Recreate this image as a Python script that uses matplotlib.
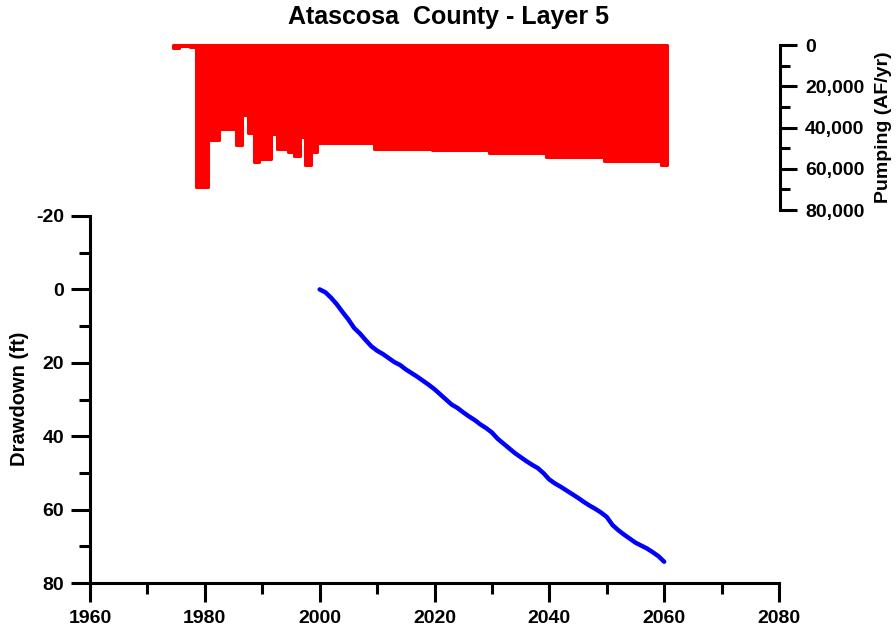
import matplotlib
matplotlib.use("Agg")
import matplotlib.pyplot as plt
from matplotlib.ticker import MultipleLocator, FuncFormatter

plt.rcParams['font.family'] = ['Liberation Sans', 'DejaVu Sans']
plt.rcParams['font.weight'] = 'bold'
plt.rcParams['axes.unicode_minus'] = False

# ---------------- data ----------------
title = "Atascosa  County - Layer 5"

pump_years = list(range(1975, 2061))
pump_values = [
    1300, 300, 300, 1000,                 # 1975-1978
    68800, 68800,                         # 1979-1980
    46200, 46200,                         # 1981-1982
    40500, 40500, 40500,                  # 1983-1985
    48600, 34100, 42600,                  # 1986-1988
    56700, 55100, 55100,                  # 1989-1991
    43300, 50200, 50200,                  # 1992-1994
    51800, 53900, 44400,                  # 1995-1997
    58300, 51800,                         # 1998-1999
    47500, 47500, 47500, 47500, 47500, 47500, 47500, 47500, 47500, 47500,  # 2000s
    50400, 50400, 50400, 50400, 50400, 50400, 50400, 50400, 50400, 50400,  # 2010s
    51000, 51000, 51000, 51000, 51000, 51000, 51000, 51000, 51000, 51000,  # 2020s
    52600, 52600, 52600, 52600, 52600, 52600, 52600, 52600, 52600, 52600,  # 2030s
    54200, 54200, 54200, 54200, 54200, 54200, 54200, 54200, 54200, 54200,  # 2040s
    56200, 56200, 56200, 56200, 56200, 56200, 56200, 56200, 56200, 56200,  # 2050s
    58300,                                # 2060
]

dd_years = list(range(2000, 2061))
dd_values = [
    0.0, 0.8, 2.3, 4.1, 6.2, 8.2, 10.5, 12.0, 13.8, 15.5,
    16.7, 17.6, 18.7, 19.8, 20.6, 21.8, 22.8, 23.8, 24.9, 26.0,
    27.2, 28.6, 30.0, 31.4, 32.3, 33.5, 34.6, 35.6, 36.8, 37.8,
    39.0, 40.7, 42.0, 43.3, 44.6, 45.7, 46.8, 47.8, 48.7, 50.1,
    51.8, 52.9, 53.8, 54.8, 55.8, 56.8, 57.9, 58.9, 59.8, 60.8,
    62.0, 64.2, 65.6, 66.8, 67.9, 69.0, 69.8, 70.6, 71.6, 72.7,
    74.2,
]

x_ticks = [1960, 1980, 2000, 2020, 2040, 2060, 2080]
dd_ticks = [-20, 0, 20, 40, 60, 80]
pump_ticks = [0, 20000, 40000, 60000, 80000]

# ---------------- figure ----------------
W, H = 896, 632
fig = plt.figure(figsize=(W / 100, H / 100), dpi=100)

LW = 2.2
TICK_FS = 14

# drawdown axes
ax = fig.add_axes([90 / W, 1 - 583 / H, (779 - 90) / W, (583 - 216) / H])
ax.set_xlim(1960, 2080)
ax.set_ylim(80, -20)
for s in ['top', 'right']:
    ax.spines[s].set_visible(False)
for s in ['left', 'bottom']:
    ax.spines[s].set_linewidth(LW)
    ax.spines[s].set_capstyle('projecting')
ax.set_xticks(x_ticks)
ax.set_yticks(dd_ticks)
ax.xaxis.set_minor_locator(MultipleLocator(10))
ax.yaxis.set_minor_locator(MultipleLocator(10))
ax.tick_params(which='major', length=13.5, width=LW, labelsize=TICK_FS, direction='out')
ax.tick_params(which='minor', length=8, width=LW, direction='out')
ax.tick_params(axis='x', which='major', pad=6)
ax.tick_params(axis='y', which='major', pad=5)
ax.plot(dd_years, dd_values, color='#0000ff', lw=3.2, solid_capstyle='round',
        solid_joinstyle='round')

# pumping axes (overlay)
ax2 = fig.add_axes([90 / W, 1 - 210 / H, (779 - 90) / W, (210 - 45) / H])
ax2.patch.set_visible(False)
ax2.set_xlim(1960, 2080)
ax2.set_ylim(80000, 0)
for s in ['top', 'left', 'bottom']:
    ax2.spines[s].set_visible(False)
ax2.spines['right'].set_linewidth(LW)
ax2.spines['right'].set_position(('data', 2080.2))
ax2.spines['right'].set_capstyle('projecting')
ax2.set_xticks([])
ax2.yaxis.tick_right()
ax2.set_yticks(pump_ticks)
ax2.yaxis.set_minor_locator(MultipleLocator(10000))
ax2.yaxis.set_major_formatter(FuncFormatter(lambda v, p: f"{int(v):,}"))
ax2.tick_params(axis='y', which='major', length=12, width=LW, labelsize=TICK_FS, pad=6,
                direction='out', right=True, left=False)
ax2.tick_params(axis='y', which='minor', length=7, width=LW, direction='out',
                right=True, left=False)
ax2.bar(pump_years, pump_values, width=1.0, color='#ff0000', edgecolor='#ff0000',
        linewidth=2.2, joinstyle='round', clip_on=False)

# texts
fig.text(0.5, 1 - 17 / H, title, ha='center', va='center', fontsize=18,
         weight='bold')
fig.text(19.5 / W, 1 - 399 / H, 'Drawdown (ft)', rotation=90, ha='center',
         va='center', fontsize=14.5, weight='bold')
fig.text(883 / W, 1 - 127 / H, 'Pumping (AF/yr)', rotation=90, ha='center',
         va='center', fontsize=14, weight='bold')

fig.savefig('out.png', dpi=100)
